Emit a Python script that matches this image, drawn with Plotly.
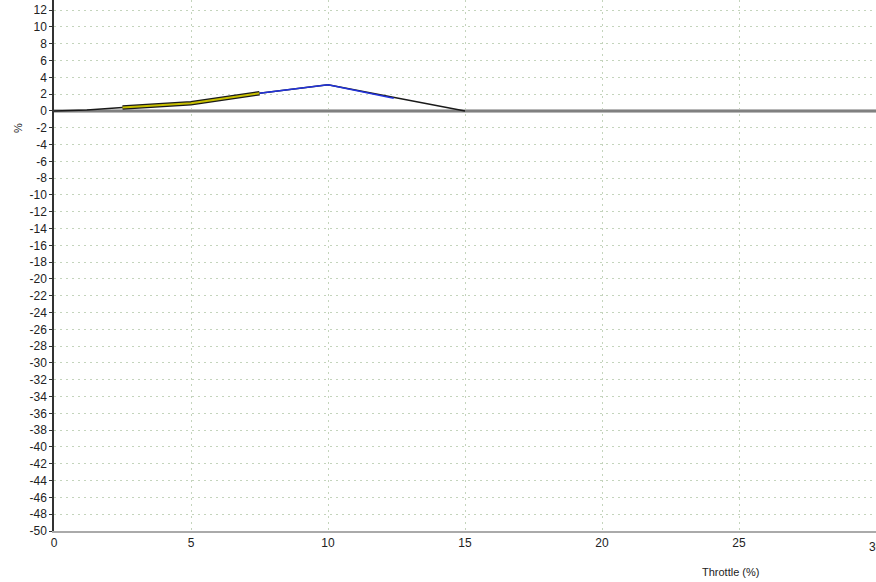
import plotly.graph_objects as go

# data
x_all = [0, 1.2, 2.5, 5, 7.5, 10, 15]
y_all = [0, 0.1, 0.4, 0.9, 2.1, 3.1, 0]
x_zero = [0, 30]
y_zero = [0, 0]
x_yellow = [2.5, 5, 7.5]
y_yellow = [0.4, 0.9, 2.1]
x_blue = [7.5, 10, 12.4]
y_blue = [2.1, 3.1, 1.5]
y_ticks = list(range(-50, 13, 2))
x_ticks = [0, 5, 10, 15, 20, 25]
x_edge_label = "30"

fig = go.Figure()
fig.add_trace(go.Scatter(x=x_zero, y=y_zero, mode="lines",
                         line=dict(color="#b8b8b8", width=4), hoverinfo="skip"))
fig.add_trace(go.Scatter(x=x_zero, y=y_zero, mode="lines",
                         line=dict(color="#808080", width=2), hoverinfo="skip"))
fig.add_trace(go.Scatter(x=x_all, y=y_all, mode="lines",
                         line=dict(color="#1a1a1a", width=1.5)))
fig.add_trace(go.Scatter(x=x_yellow, y=y_yellow, mode="lines",
                         line=dict(color="#1a1a1a", width=4.5)))
fig.add_trace(go.Scatter(x=x_yellow, y=y_yellow, mode="lines",
                         line=dict(color="#c8c000", width=2)))
fig.add_trace(go.Scatter(x=x_blue, y=y_blue, mode="lines",
                         line=dict(color="#2233dd", width=1.5)))

grid = "#c4d4bc"
fig.update_layout(
    width=876, height=582,
    margin=dict(l=54, r=0, t=0, b=51, autoexpand=False),
    plot_bgcolor="white", paper_bgcolor="white",
    showlegend=False,
    font=dict(family="Liberation Sans, Arial, sans-serif", size=12, color="#222"),
    xaxis=dict(range=[0, 30], tickvals=x_ticks, ticktext=[str(v) for v in x_ticks],
               showgrid=True, gridcolor=grid, griddash="2px,4px", gridwidth=1,
               zeroline=False, showline=True, linecolor="#aaaaaa", linewidth=2,
               ticks="", automargin=False),
    yaxis=dict(range=[-50, 13.2], tickvals=y_ticks, ticktext=[str(v) for v in y_ticks],
               showgrid=True, gridcolor=grid, griddash="2px,4px", gridwidth=1,
               zeroline=False, showline=True, linecolor="#333333", linewidth=1.5,
               ticks="outside", ticklen=3, tickcolor="#333", automargin=False),
    annotations=[
        dict(text="Throttle (%)", x=(730 - 54) / 822, y=-0.077, xref="paper", yref="paper",
             xanchor="center", yanchor="middle", showarrow=False, font=dict(size=11)),
        dict(text="%", xref="paper", yref="paper", x=(18 - 54) / 822, y=(531 - 128) / 531,
             xanchor="center", yanchor="middle",
             showarrow=False, textangle=-90, font=dict(size=11)),
        dict(text=x_edge_label, x=30, xref="x", y=-0.03, yref="paper",
             xanchor="center", yanchor="middle", showarrow=False, font=dict(size=12)),
    ],
)
fig.write_html("out.html", config={"displayModeBar": False},
               post_script="document.body.style.margin='0';document.body.style.overflow='hidden';")
